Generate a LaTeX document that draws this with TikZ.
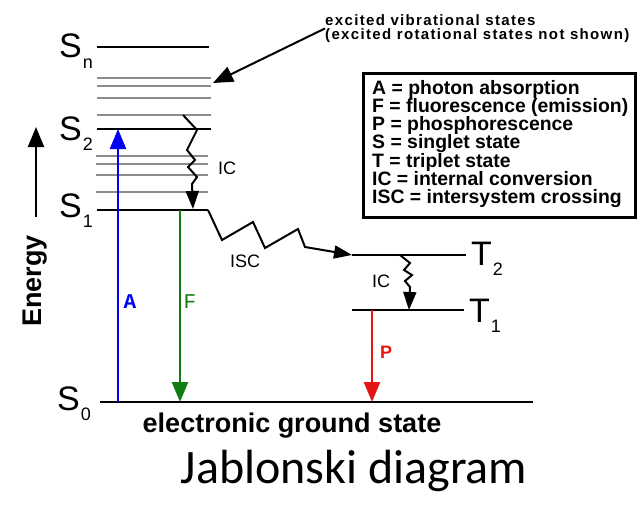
\documentclass[tikz,border=0pt]{standalone}
\usepackage{fontspec}
\setmainfont{Liberation Sans}
\newfontfamily\titlefont{Carlito}
\newfontfamily\labelmono{Liberation Mono}
\usepackage{tikz}
\usetikzlibrary{positioning, arrows.meta, calc}
\definecolor{cVib} {HTML}{8C8C8C}
\definecolor{cAbs} {HTML}{0000F2}
\definecolor{cFluo}{HTML}{137C13}
\definecolor{cPhos}{HTML}{E41515}

\newcommand{\statelbl}[2]{{\fontsize{34}{34}\selectfont #1}\kern1pt\raisebox{-10pt}{\fontsize{18}{18}\selectfont #2}}

\begin{document}
\begin{tikzpicture}[x=1pt, y=-1pt,
    lvl/.style={line width=2pt},
    vib/.style={draw=cVib, line width=2pt},
    zig/.style={line width=2pt, line join=miter},
    bigtip/.style={-{Triangle[length=20pt,width=16pt]}},
    smalltip/.style={-{Triangle[length=18pt,width=13pt]}},
    stlbl/.style={anchor=base west, inner sep=0pt},
    proclbl/.style={font=\fontsize{18}{18}\selectfont, inner sep=0pt},
    legtext/.style={anchor=base west, inner sep=0pt, font=\bfseries\fontsize{19.4}{19.4}\selectfont},
  ]
  \useasboundingbox (0,0) rectangle (639,511);

  % singlet levels
  \foreach \n/\y/\xa/\xb in {sn/47/97/209, s2/129/97/211, s1/210/97/208, s0/402/100/533}{
    \coordinate (\n-l) at (\xa,\y);
    \coordinate (\n-r) at (\xb,\y);
    \draw[lvl] (\n-l) -- (\n-r);
  }
  % vibrational sublevels
  \foreach \y in {78, 86, 98, 115}{
    \draw[vib] (97,\y) -- (211,\y);
  }
  \foreach \y in {156, 164, 175, 192}{
    \draw[vib] (96,\y) -- (208,\y);
  }
  % triplet levels
  \foreach \n/\y/\xb in {t2/255/466, t1/310/464}{
    \coordinate (\n-l) at (352,\y);
    \coordinate (\n-r) at (\xb,\y);
    \draw[lvl] (\n-l) -- (\n-r);
  }

  % level names
  \node[stlbl] (snlbl) at (59,58)  {\statelbl{S}{n}};
  \node[stlbl] (s2lbl) at (59,140) {\statelbl{S}{2}};
  \node[stlbl] (s1lbl) at (59,217) {\statelbl{S}{1}};
  \node[stlbl] (s0lbl) at (57,410) {\statelbl{S}{0}};
  \node[stlbl] (t2lbl) at (471,265) {\statelbl{T}{2}};
  \node[stlbl] (t1lbl) at (469,322) {\statelbl{T}{1}};

  % radiative transitions
  \coordinate (abs-foot) at (118,402);
  \coordinate (abs-top)  at (118,129);
  \draw[cAbs, line width=2.4pt, bigtip] (abs-foot) -- (abs-top);
  \node[font={\labelmono\bfseries\fontsize{21}{21}\selectfont}, text=cAbs, inner sep=0pt] (albl) at (130,302) {A};
  \coordinate (fl-top)  at (180,210);
  \coordinate (fl-foot) at (180,402);
  \draw[cFluo, line width=2.4pt, bigtip] (fl-top) -- (fl-foot);
  \node[font={\labelmono\fontsize{21}{21}\selectfont}, text=cFluo, inner sep=0pt] (flbl) at (190,302) {F};
  \coordinate (ph-top)  at (372,310);
  \coordinate (ph-foot) at (372,402);
  \draw[cPhos, line width=2.4pt, bigtip] (ph-top) -- (ph-foot);
  \node[font=\bfseries\fontsize{18}{18}\selectfont, text=cPhos, inner sep=0pt] (plbl) at (386,352) {P};

  % non-radiative transitions
  \coordinate (ic1-start) at (183,115);
  \coordinate (ic1-end)   at (193,209);
  \draw[zig, smalltip] (ic1-start) -- (197,130) -- (187,150) -- (195,160) -- (188,167)
        -- (197,177) -- (192,184) -- (ic1-end);
  \node[proclbl] (ic1lbl) at (227,168) {IC};
  \draw[zig, smalltip] (s1-r) -- (222,240) -- (253,222) -- (265,248) -- (298,229)
        -- (305,247) -- (t2-l);
  \node[proclbl] (isclbl) at (245,261) {ISC};
  \coordinate (ic2-start) at (400,255);
  \coordinate (ic2-end)   at (409,310);
  \draw[zig, smalltip] (ic2-start) -- (410,263) -- (404,270) -- (412,275) -- (405,281)
        -- (410,287) -- (ic2-end);
  \node[proclbl] (ic2lbl) at (381,281) {IC};

  % energy axis
  \coordinate (en-foot) at (36,217);
  \coordinate (en-top)  at (36,127);
  \draw[line width=2pt, bigtip] (en-foot) -- (en-top);
  \node[rotate=90, font=\bfseries\fontsize{27}{27}\selectfont, inner sep=0pt] (enlbl) at (35,281) {Energy};

  % sublevel callout
  \node[anchor=north west, align=left, inner sep=0pt,
        font={\bfseries\fontsize{15}{14.5}\selectfont\addfontfeature{LetterSpace=9}}]
        (viblbl) at (325,14) {excited vibrational states\\(excited rotational states not shown)};
  \coordinate (vib-tip) at (213,83);
  \draw[line width=2pt, bigtip] (viblbl.west) -- (vib-tip);

  % legend
  \node[draw, line width=3pt, minimum width=272pt, minimum height=144pt,
        anchor=north west, inner sep=0pt] (legend) at (361.5,71.5) {};
  \foreach \i/\txt in {0/A = photon absorption, 1/F = fluorescence (emission),
      2/P = phosphorescence, 3/S = singlet state, 4/T = triplet state,
      5/IC = internal conversion, 6/ISC = intersystem crossing}{
    \node[legtext] (leg\i) at (372, 94+18.3*\i) {\txt};
  }

  \node[font=\bfseries\fontsize{27}{27}\selectfont, anchor=base] (gslbl) at (292,432) {electronic ground state};
  \node[font=\titlefont\fontsize{48}{48}\selectfont, anchor=base] (title) at (354,483) {Jablonski diagram};
\end{tikzpicture}
\end{document}
